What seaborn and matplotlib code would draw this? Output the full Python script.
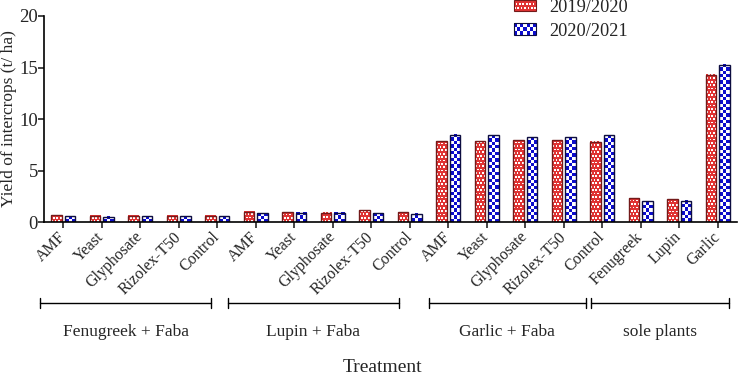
import numpy as np
import pandas as pd
import seaborn as sns
import matplotlib.pyplot as plt
from matplotlib.legend_handler import HandlerBase
from matplotlib.image import BboxImage
from matplotlib.transforms import Bbox, TransformedBbox
from matplotlib.patches import Rectangle

# data
treatments = ["AMF", "Yeast", "Glyphosate", "Rizolex-T50", "Control",
              "AMF", "Yeast", "Glyphosate", "Rizolex-T50", "Control",
              "AMF", "Yeast", "Glyphosate", "Rizolex-T50", "Control",
              "Fenugreek", "Lupin", "Garlic"]
groups = ["Fenugreek + Faba", "Lupin + Faba", "Garlic + Faba", "sole plants"]
seasons = ["2019/2020", "2020/2021"]
yield_1920 = [0.65, 0.62, 0.63, 0.6, 0.63,
              1.0, 0.94, 0.9, 1.12, 0.97,
              7.85, 7.82, 7.95, 7.92, 7.8,
              2.33, 2.23, 14.3]
yield_2021 = [0.55, 0.53, 0.55, 0.55, 0.55,
              0.84, 0.9, 0.9, 0.87, 0.8,
              8.45, 8.4, 8.25, 8.25, 8.4,
              2.0, 2.07, 15.25]

# bracket extents under the axis (x units) for each group
bracket_spans = [(-0.6, 3.85), (4.29, 8.71), (9.49, 13.57), (13.72, 17.29)]

n = len(treatments)
df = pd.DataFrame({
    "pos": list(range(n)) * 2,
    "season": [seasons[0]] * n + [seasons[1]] * n,
    "yield": yield_1920 + yield_2021,
})

# pattern: (cell colour, edge colour, cell size px, kind)
styles = {
    seasons[0]: ((0.88, 0.2, 0.2), (0.45, 0.1, 0.1), 1.7, "dots"),
    seasons[1]: ((0.05, 0.05, 0.8), (0.05, 0.05, 0.25), 3.3, "checker"),
}

serif = ["Liberation Serif", "DejaVu Serif"]
sns.set_style("ticks")
plt.rcParams["font.family"] = serif

fig = plt.figure(figsize=(7.38, 3.74), dpi=100)
W, H = 738, 374
ax = fig.add_axes([44 / W, 1 - 222 / H, 693 / W, 206 / H])

sns.barplot(data=df, x="pos", y="yield", hue="season", hue_order=seasons,
            palette=["white", "white"], width=0.7, gap=0.25, ax=ax,
            legend=False, saturation=1)

ax.set_xlim(-0.5, n - 0.5)
ax.set_ylim(0, 20)
ax.set_yticks([0, 5, 10, 15, 20])
ax.set_facecolor("none")


def pattern(rows, cols, color, kind):
    img = np.ones((rows, cols, 3))
    r, c = np.meshgrid(np.arange(rows), np.arange(cols), indexing="ij")
    if kind == "checker":
        mask = (r + c) % 2 == 0
    else:
        # mostly colour with small white dots on a diagonal grid
        mask = ~((r % 2 == 0) & ((c + r // 2) % 2 == 0))
    img[mask] = color
    return img


px_x = ax.transData.transform((1, 0))[0] - ax.transData.transform((0, 0))[0]
px_y = ax.transData.transform((0, 1))[1] - ax.transData.transform((0, 0))[1]

for season, cont in zip(seasons, ax.containers):
    color, edge, cell, kind = styles[season]
    for bar in cont:
        x0, w = bar.get_x(), bar.get_width()
        h = bar.get_height()
        cols = max(1, int(round(w * px_x / cell)))
        rows = max(1, int(round(h * px_y / cell)))
        ax.imshow(pattern(rows, cols, color, kind), extent=(x0, x0 + w, 0, h),
                  origin="lower", aspect="auto", interpolation="nearest",
                  clip_path=bar, zorder=1)
        bar.set_facecolor("none")
        bar.set_edgecolor(edge)
        bar.set_linewidth(1.0)
        bar.set_zorder(2)
ax.set_xlim(-0.5, n - 0.5)
ax.set_ylim(0, 20)

ax.set_xticks(range(n))
ax.set_xticklabels(treatments, rotation=45, ha="right", va="center",
                   rotation_mode="anchor", fontsize=11.5)
ax.tick_params(axis="x", length=4, width=1.2, pad=5)
ax.tick_params(axis="y", length=4, width=1.2, labelsize=13.5, pad=0.5)
for s in ["left", "bottom"]:
    ax.spines[s].set_linewidth(1.2)
    ax.spines[s].set_color("black")
sns.despine(ax=ax)

ax.set_xlabel("")
ax.set_ylabel("Yield of intercrops (t/ ha)", fontsize=12.5)
ax.yaxis.set_label_coords(-27 / 693, 0.5)

# group brackets
trans = ax.get_xaxis_transform()
yb = -0.393
cap = 0.025
for (a, b), name in zip(bracket_spans, groups):
    ax.plot([a, b], [yb, yb], color="black", lw=1.0, transform=trans, clip_on=False)
    for xx in (a, b):
        ax.plot([xx, xx], [yb - cap, yb + cap], color="black", lw=1.0,
                transform=trans, clip_on=False)
    ax.text((a + b) / 2, -0.535, name, transform=trans, ha="center", va="center",
            fontsize=12.5)

fig.text(382 / W, 1 - 367 / H, "Treatment", ha="center", va="center", fontsize=14)


# legend with patterned patches
class HandlerPattern(HandlerBase):
    def __init__(self, color, edge, cols, rows, kind):
        super().__init__()
        self.color, self.edge = color, edge
        self.cols, self.rows, self.kind = cols, rows, kind

    def create_artists(self, legend, orig_handle, xdescent, ydescent,
                       width, height, fontsize, trans):
        bb = TransformedBbox(Bbox.from_bounds(-xdescent, -ydescent, width, height), trans)
        img = BboxImage(bb, interpolation="nearest")
        img.set_data(pattern(self.rows, self.cols, self.color, self.kind))
        rect = Rectangle((-xdescent, -ydescent), width, height, facecolor="none",
                         edgecolor=self.edge, lw=0.8, transform=trans)
        return [img, rect]


handles = [Rectangle((0, 0), 1, 1), Rectangle((0, 0), 1, 1)]
hmap = {
    handles[0]: HandlerPattern(styles[seasons[0]][0], styles[seasons[0]][1], 13, 6, "dots"),
    handles[1]: HandlerPattern(styles[seasons[1]][0], styles[seasons[1]][1], 7, 3, "checker"),
}
fig.legend(handles, seasons, handler_map=hmap, loc="upper left",
           bbox_to_anchor=(514 / W, 1 + 1 / H), frameon=False, fontsize=13.2,
           handlelength=1.2, handleheight=0.6, handletextpad=0.7,
           labelspacing=0.36, borderpad=0, borderaxespad=0)

fig.savefig("out.png", dpi=100)
